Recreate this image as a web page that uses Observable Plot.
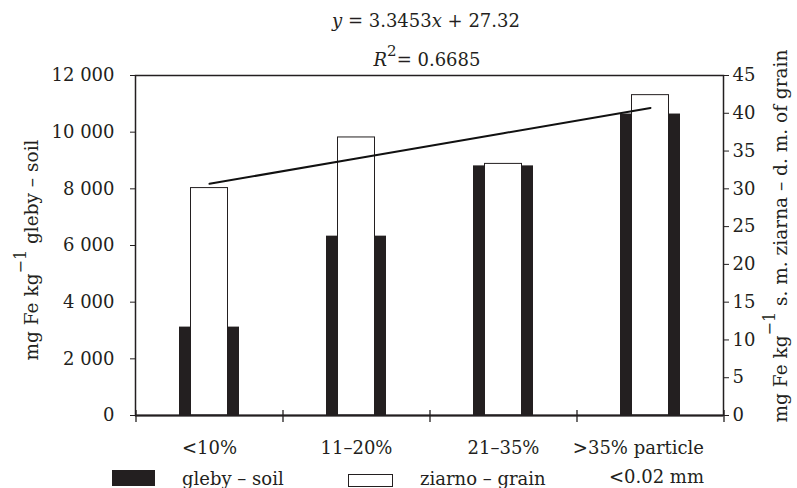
<!DOCTYPE html>
<html><head><meta charset="utf-8">
<script src="https://cdn.jsdelivr.net/npm/d3@7"></script>
<script src="https://cdn.jsdelivr.net/npm/@observablehq/plot@0.6"></script>
<style>
body{margin:0;background:#fff}
svg{font-family:"DejaVu Serif","Liberation Serif",serif}
</style>
</head><body><div id="chart"></div>
<script>
const categories = ["<10%", "11–20%", "21–35%", ">35% particle"];
const soil = [3120, 6330, 8810, 10640];          // mg Fe kg-1 soil (left axis)
const grain = [30.1, 36.8, 33.3, 42.4];          // mg Fe kg-1 d.m. of grain (right axis)
const trend = [30.67, 34.01, 37.36, 40.70];      // y = 3.3453x + 27.32
const leftTicks = [0, 2000, 4000, 6000, 8000, 10000, 12000];
const rightTicks = [0, 5, 10, 15, 20, 25, 30, 35, 40, 45];

const k = 12000 / 45; // right-axis value -> left-axis scale units
const data = categories.map((c, i) => ({cat: c, soil: soil[i], grain: grain[i] * k, trend: trend[i] * k}));
const fmt = d3.formatLocale({thousands: " ", grouping: [3], decimal: "."}).format(",");

const W = 797, H = 488;
const ink = "#231f20";
const plot = Plot.plot({
  width: W, height: H,
  marginLeft: 135, marginRight: 74, marginTop: 75, marginBottom: 73,
  style: {fontFamily: "'DejaVu Serif', 'Liberation Serif', serif", fontSize: "18px", background: "#fff", color: ink},
  x: {type: "band", domain: categories, paddingInner: 0.592, paddingOuter: 0.296, axis: null},
  y: {domain: [0, 12000], axis: null},
  marks: [
    Plot.barY(data, {x: "cat", y: "soil", fill: ink}),
    Plot.barY(data, {x: "cat", y: "grain", fill: "#fff", stroke: ink, strokeWidth: 1, insetLeft: 11.5, insetRight: 11.5}),
    Plot.line(data, {x: "cat", y: "trend", stroke: "#111", strokeWidth: 2}),
    Plot.frame({stroke: ink, strokeWidth: 1.5}),
    Plot.ruleY([0], {stroke: ink, strokeWidth: 2}),
    Plot.ruleX(categories, {x: d => d, dx: -73.5, y1: -250, y2: 180, stroke: ink, strokeWidth: 1.3}),
    Plot.ruleX(categories.slice(-1), {x: d => d, dx: 73.5, y1: -250, y2: 180, stroke: ink, strokeWidth: 1.3}),
    Plot.axisY(leftTicks, {anchor: "left", tickFormat: fmt, tickSize: 5, tickPadding: 16, label: null, fontSize: 18}),
    Plot.axisY(rightTicks.map(v => v * k), {anchor: "right", tickFormat: v => String(Math.round(v / k)), tickSize: 5, tickPadding: 4, label: null, fontSize: 18}),
    Plot.text(data.slice(0, 3), {x: "cat", text: "cat", frameAnchor: "bottom", lineAnchor: "bottom", dy: 38, fontSize: 18, fill: ink}),
    Plot.text(data.slice(3), {x: "cat", text: d => d.cat + "\n<0.02 mm", frameAnchor: "bottom", lineAnchor: "bottom", textAnchor: "end", dx: 53.5, dy: 67, lineHeight: 1.61, fontSize: 18, fill: ink})
  ]
});
document.getElementById("chart").appendChild(plot);

const svg = d3.select(plot);
function txt(x, y, anchor) {
  return svg.append("text").attr("x", x).attr("y", y).attr("text-anchor", anchor).attr("font-size", 18).attr("fill", ink);
}
// equation
const eq = txt(426, 27, "middle");
eq.append("tspan").attr("font-style", "italic").text("y");
eq.append("tspan").text(" = 3.3453");
eq.append("tspan").attr("font-style", "italic").text("x");
eq.append("tspan").text(" + 27.32");
const r2 = txt(427, 66, "middle");
r2.append("tspan").attr("font-style", "italic").text("R");
r2.append("tspan").attr("dy", -10).attr("font-size", 15).text("2");
r2.append("tspan").attr("dy", 10).text("= 0.6685");

// axis titles
function title(x, y, before, after, size) {
  const t = svg.append("text").attr("transform", `translate(${x},${y}) rotate(-90)`).attr("text-anchor", "middle").attr("font-size", size).attr("fill", ink);
  t.append("tspan").text(before);
  t.append("tspan").attr("dy", -12).attr("font-size", 16).text("−1");
  t.append("tspan").attr("dy", 12).text(after);
}
title(38, 250, "mg Fe kg", " gleby – soil", 18.5);
title(787, 236, "mg Fe kg", " s. m. ziarna – d. m. of grain", 18.5);

// legend
svg.append("rect").attr("x", 112).attr("y", 470).attr("width", 43).attr("height", 16).attr("fill", ink);
txt(182, 485, "start").text("gleby – soil");
svg.append("rect").attr("x", 348.5).attr("y", 474.5).attr("width", 44).attr("height", 12).attr("fill", "#fff").attr("stroke", ink).attr("stroke-width", 1);
txt(420, 485, "start").text("ziarno – grain");
</script>
</body></html>
